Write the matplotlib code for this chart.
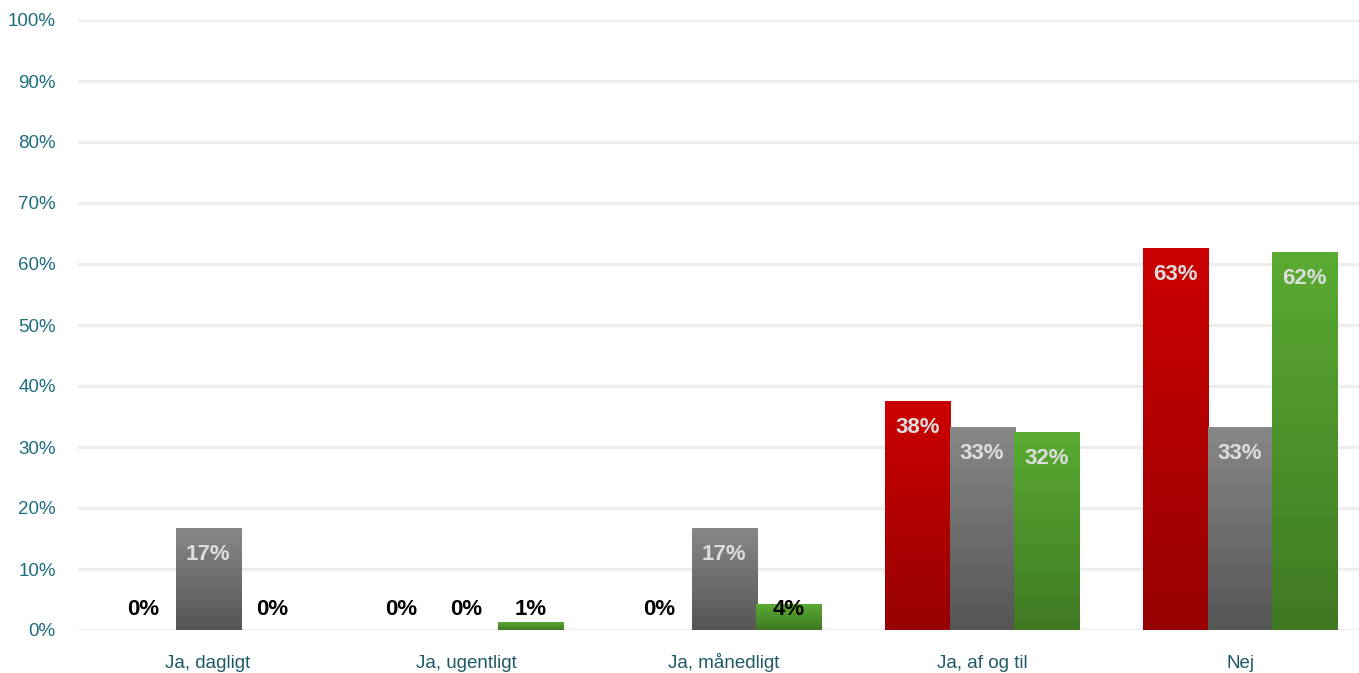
import numpy as np
import matplotlib
matplotlib.use("Agg")
import matplotlib.pyplot as plt
from matplotlib.colors import LinearSegmentedColormap

plt.rcParams['font.family'] = ['Liberation Sans', 'DejaVu Sans']

categories = ["Ja, dagligt", "Ja, ugentligt", "Ja, månedligt", "Ja, af og til", "Nej"]
red_vals = [0, 0, 0, 37.5, 62.6]
gray_vals = [16.7, 0, 16.7, 33.3, 33.3]
green_vals = [0, 1.3, 4.3, 32.4, 62.0]
yticks = [0, 10, 20, 30, 40, 50, 60, 70, 80, 90, 100]

# top colour, bottom colour
series = [
    (red_vals, ("#cc0000", "#960000")),
    (gray_vals, ("#888888", "#555555")),
    (green_vals, ("#5aab32", "#3f7923")),
]

fig = plt.figure(figsize=(13.59, 6.73), dpi=100)
ax = fig.add_axes([78 / 1359, 1 - 630 / 673, 1 - 78 / 1359, (630 - 20) / 673])

x = np.arange(len(categories))
width = 0.252
offsets = [-0.25, 0.0, 0.25]

grad = np.linspace(1, 0, 256).reshape(-1, 1)
for (vals, (top, bottom)), off in zip(series, offsets):
    cmap = LinearSegmentedColormap.from_list("g", [bottom, top])
    bars = ax.bar(x + off, vals, width, color="none", edgecolor="none", zorder=2)
    for b, v in zip(bars, vals):
        if v > 0:
            x0 = b.get_x()
            im = ax.imshow(grad, cmap=cmap, vmin=0, vmax=1, aspect="auto",
                           extent=[x0, x0 + b.get_width(), 0, v], zorder=2,
                           interpolation="bilinear")
            im.set_clip_path(b)
        if v >= 10:
            ax.text(b.get_x() + b.get_width() / 2, v - 4.3, f"{v:.0f}%",
                    ha="center", va="center", color="#dddddd",
                    fontsize=16, fontweight="bold", zorder=3)
        else:
            ax.text(b.get_x() + b.get_width() / 2, 3.4, f"{v:.0f}%",
                    ha="center", va="center", color="black",
                    fontsize=16, fontweight="bold", zorder=3)

ax.set_xlim(-0.504, 4.461)
ax.set_ylim(0, 100)
ax.set_yticks(yticks)
ax.set_yticklabels([f"{t}%" for t in yticks], color="#1d6f80", fontsize=13.5)
ax.set_xticks(x)
ax.set_xticklabels(categories, color="#1e5a66", fontsize=13.5, va="baseline")
ax.tick_params(axis="both", length=0)
ax.tick_params(axis="y", pad=16)
ax.tick_params(axis="x", pad=27)
ax.grid(axis="y", color="#eeeeee", linewidth=2.4, zorder=0)
ax.set_axisbelow(True)
for s in ax.spines.values():
    s.set_visible(False)

fig.savefig("out.png", dpi=100)
